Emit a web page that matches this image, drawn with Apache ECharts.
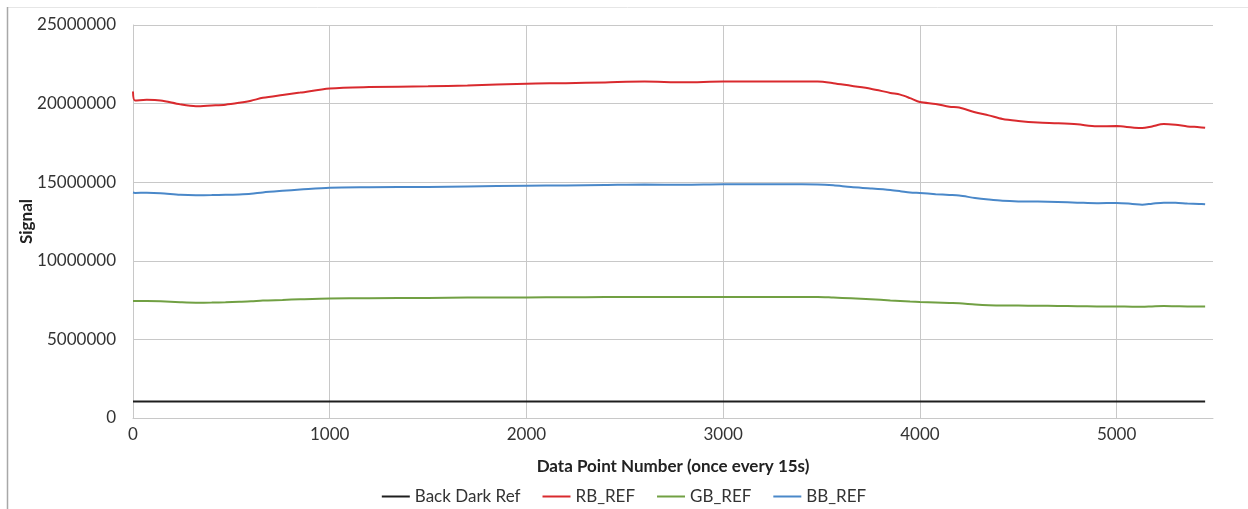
<!DOCTYPE html>
<html>
<head>
<meta charset="utf-8">
<script src="https://cdn.jsdelivr.net/npm/echarts@6/dist/echarts.min.js"></script>
<style>
html,body{margin:0;padding:0;background:#fff}
#chart{width:1248px;height:509px}
</style>
</head>
<body>
<div id="chart"></div>
<script>
// data point number (x) shared by the three reference series
var pointNum = [0, 10, 70, 140, 240, 320, 400, 470, 540, 600, 660, 760, 850, 1000, 1200, 1500, 1700, 2000, 2200, 2400,
  2600, 2800, 3000, 3200, 3400, 3480, 3560, 3650, 3750, 3850, 3900, 3950, 4000, 4080, 4150, 4200, 4280, 4350, 4420, 4500,
  4600, 4700, 4800, 4900, 5000, 5080, 5130, 5180, 5240, 5300, 5360, 5420, 5450]
// signal values in millions
var rbRef = [20.77, 20.2, 20.24, 20.2, 19.95, 19.83, 19.88, 19.93, 20.05, 20.18, 20.37, 20.55, 20.7, 20.96, 21.05, 21.1, 21.15, 21.27, 21.3, 21.35,
  21.4, 21.36, 21.4, 21.4, 21.4, 21.4, 21.3, 21.13, 20.95, 20.68, 20.57, 20.35, 20.1, 19.98, 19.8, 19.75, 19.45, 19.25, 19.02, 18.9,
  18.8, 18.75, 18.68, 18.56, 18.57, 18.48, 18.44, 18.55, 18.7, 18.65, 18.55, 18.5, 18.46]
var gbRef = [7.44, 7.44, 7.44, 7.42, 7.36, 7.33, 7.34, 7.36, 7.39, 7.42, 7.47, 7.51, 7.55, 7.6, 7.62, 7.64, 7.66, 7.67, 7.68, 7.69,
  7.7, 7.69, 7.7, 7.7, 7.7, 7.7, 7.66, 7.61, 7.55, 7.48, 7.45, 7.41, 7.38, 7.35, 7.32, 7.3, 7.22, 7.17, 7.15, 7.15,
  7.14, 7.13, 7.11, 7.1, 7.1, 7.08, 7.08, 7.1, 7.12, 7.11, 7.1, 7.1, 7.1]
var bbRef = [14.34, 14.32, 14.33, 14.3, 14.2, 14.17, 14.18, 14.2, 14.22, 14.26, 14.35, 14.45, 14.53, 14.65, 14.68, 14.7, 14.73, 14.78, 14.79, 14.82,
  14.85, 14.84, 14.87, 14.87, 14.87, 14.86, 14.8, 14.69, 14.6, 14.5, 14.43, 14.35, 14.31, 14.24, 14.19, 14.15, 14.0, 13.9, 13.82, 13.78,
  13.77, 13.74, 13.7, 13.66, 13.68, 13.62, 13.57, 13.63, 13.7, 13.69, 13.65, 13.62, 13.6]
var darkX = [0, 5450]
var darkRef = [1.05, 1.05]

var seriesNames = ['Back Dark Ref', 'RB_REF', 'GB_REF', 'BB_REF']
var colors = ['#1e1e1e', '#d92a2e', '#71a043', '#4a88c9']

function pairs(xs, ys) {
  return xs.map(function (x, i) { return [x, ys[i] * 1000000] })
}

var font = 'Lato, "Open Sans", sans-serif'
var chart = echarts.init(document.getElementById('chart'))
chart.setOption({
  animation: false,
  color: colors,
  textStyle: {fontFamily: font},
  graphic: [
    {type: 'line', shape: {x1: 7, y1: 7.5, x2: 1248, y2: 7.5}, style: {stroke: '#e6e6e6', lineWidth: 1}},
    {type: 'line', shape: {x1: 7.5, y1: 7, x2: 7.5, y2: 509}, style: {stroke: '#a8a8a8', lineWidth: 1.5}}
  ],
  grid: {left: 133, right: 35, top: 25, bottom: 91},
  legend: {
    data: seriesNames,
    bottom: -1,
    left: 'center',
    icon: 'rect',
    itemWidth: 28,
    itemHeight: 2,
    itemGap: 22,
    textStyle: {fontSize: 17, color: '#333', fontFamily: font}
  },
  xAxis: {
    type: 'value',
    min: 0,
    max: 5490,
    interval: 1000,
    name: 'Data Point Number (once every 15s)',
    nameLocation: 'middle',
    nameGap: 40,
    nameTextStyle: {fontSize: 17, fontWeight: 'bold', color: '#222', fontFamily: font},
    axisLine: {show: true, lineStyle: {color: '#c8c8c8'}},
    axisTick: {show: false},
    axisLabel: {fontSize: 17, color: '#333', margin: 8, showMaxLabel: false, formatter: function (v) { return String(v) }},
    splitLine: {show: true, showMaxLine: false, lineStyle: {color: '#c8c8c8'}}
  },
  yAxis: {
    type: 'value',
    min: 0,
    max: 25000000,
    interval: 5000000,
    name: 'Signal',
    nameLocation: 'middle',
    nameGap: 98,
    nameRotate: 90,
    nameMoveOverlap: false,
    nameTextStyle: {fontSize: 17, fontWeight: 'bold', color: '#222', fontFamily: font},
    axisLine: {show: true, lineStyle: {color: '#c8c8c8'}},
    axisTick: {show: false},
    axisLabel: {fontSize: 17, color: '#333', margin: 17, formatter: function (v) { return String(v) }},
    splitLine: {show: true, lineStyle: {color: '#c8c8c8'}}
  },
  series: [
    {name: 'Back Dark Ref', type: 'line', showSymbol: false, lineStyle: {width: 2}, data: pairs(darkX, darkRef)},
    {name: 'RB_REF', type: 'line', showSymbol: false, smooth: 0.3, lineStyle: {width: 2}, data: pairs(pointNum, rbRef)},
    {name: 'GB_REF', type: 'line', showSymbol: false, smooth: 0.3, lineStyle: {width: 2}, data: pairs(pointNum, gbRef)},
    {name: 'BB_REF', type: 'line', showSymbol: false, smooth: 0.3, lineStyle: {width: 2}, data: pairs(pointNum, bbRef)}
  ]
})
</script>
</body>
</html>
